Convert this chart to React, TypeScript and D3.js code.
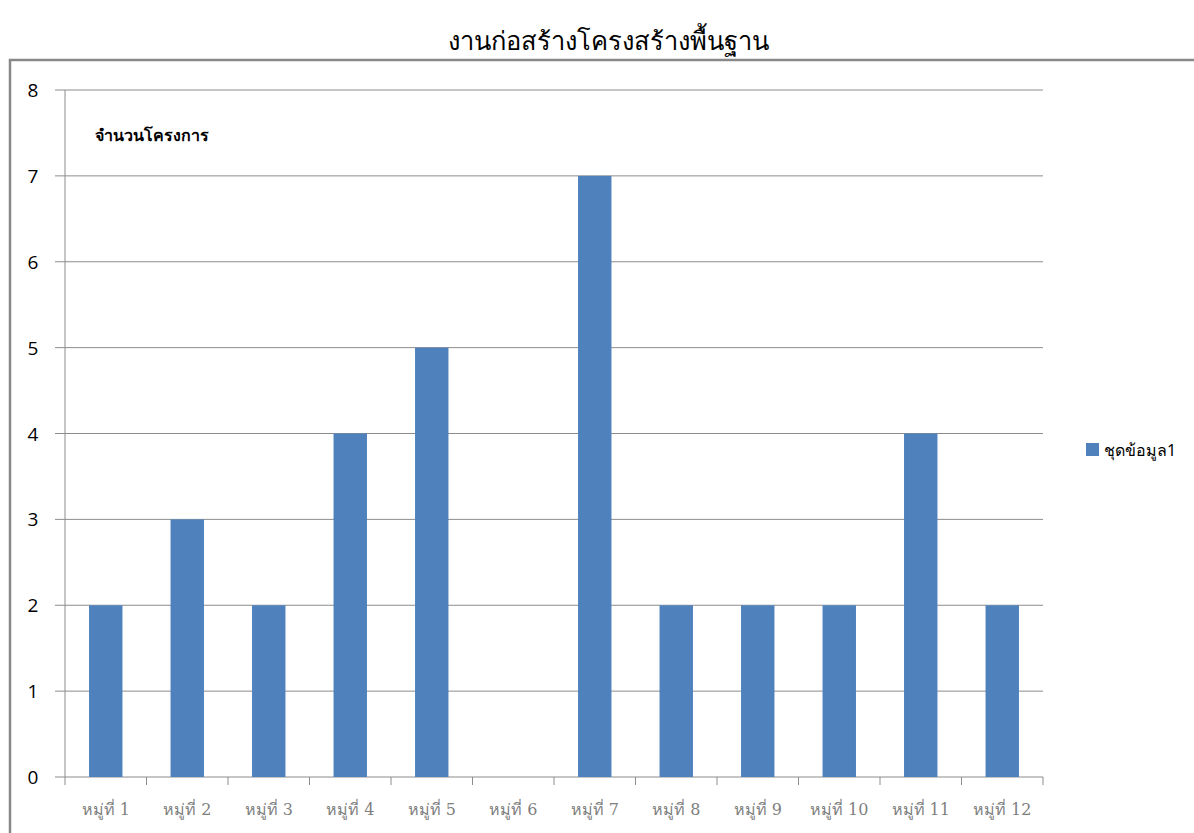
import React from "react";
import * as d3 from "d3";

const categories = ["หมู่ที่ 1", "หมู่ที่ 2", "หมู่ที่ 3", "หมู่ที่ 4", "หมู่ที่ 5", "หมู่ที่ 6", "หมู่ที่ 7", "หมู่ที่ 8", "หมู่ที่ 9", "หมู่ที่ 10", "หมู่ที่ 11", "หมู่ที่ 12"];
const values = [2, 3, 2, 4, 5, 0, 7, 2, 2, 2, 4, 2];
const yTicks = [0, 1, 2, 3, 4, 5, 6, 7, 8];
const title = "งานก่อสร้างโครงสร้างพื้นฐาน";
const axisTitle = "จำนวนโครงการ";
const seriesName = "ชุดข้อมูล1";

export default function App() {
  const W = 1194, H = 833;
  const left = 65, right = 1043, top = 90, bottom = 777;
  const x = d3.scaleBand<string>().domain(categories).range([left, right]).paddingInner(0).paddingOuter(0);
  const y = d3.scaleLinear().domain([0, 8]).range([bottom, top]);
  const bw = x.bandwidth() * 0.41;
  const barColor = "#4F81BD";
  const gridColor = "#8c8c8c";
  const boundaries = categories.map((c) => x(c) as number).concat([right]);
  return (
    <svg width={W} height={H} style={{ position: "absolute", left: 0, top: 0, background: "#fff" }}>
      <text x={608} y={50} textAnchor="middle" fontFamily="'Noto Sans', 'DejaVu Sans', sans-serif" fontWeight={300} fontSize={25.5} fill="#000">{title}</text>
      <rect x={10} y={60} width={1200} height={800} fill="none" stroke="#888" strokeWidth={2.5} />
      {yTicks.map((t) => (
        <g key={t}>
          <line x1={55} x2={right} y1={y(t)} y2={y(t)} stroke={gridColor} strokeWidth={1} />
          <text x={33} y={y(t) + 7} textAnchor="middle" fontFamily="'Open Sans', 'Noto Sans', sans-serif" fontSize={19} fill="#000">{t}</text>
        </g>
      ))}
      <line x1={left} x2={left} y1={top} y2={bottom} stroke={gridColor} strokeWidth={1} />
      {categories.map((c, i) => (
        <rect key={c} x={(x(c) as number) + (x.bandwidth() - bw) / 2} y={y(values[i])} width={bw} height={bottom - y(values[i])} fill={barColor} />
      ))}
      {boundaries.map((b, i) => (
        <line key={i} x1={b} x2={b} y1={bottom} y2={bottom + 8} stroke={gridColor} strokeWidth={1} />
      ))}
      {categories.map((c) => (
        <text key={c} x={(x(c) as number) + x.bandwidth() / 2} y={815} textAnchor="middle" fontFamily="'DejaVu Serif', 'Liberation Serif', serif" fontSize={16} fill="#7f7f7f">{c}</text>
      ))}
      <text x={95} y={141} fontFamily="'Noto Sans', sans-serif" fontWeight="bold" fontSize={16} fill="#000">{axisTitle}</text>
      <rect x={1086} y={443} width={13} height={13} fill={barColor} />
      <text x={1104} y={456} fontFamily="'Noto Sans', sans-serif" fontSize={16} fill="#000">{seriesName}</text>
    </svg>
  );
}
